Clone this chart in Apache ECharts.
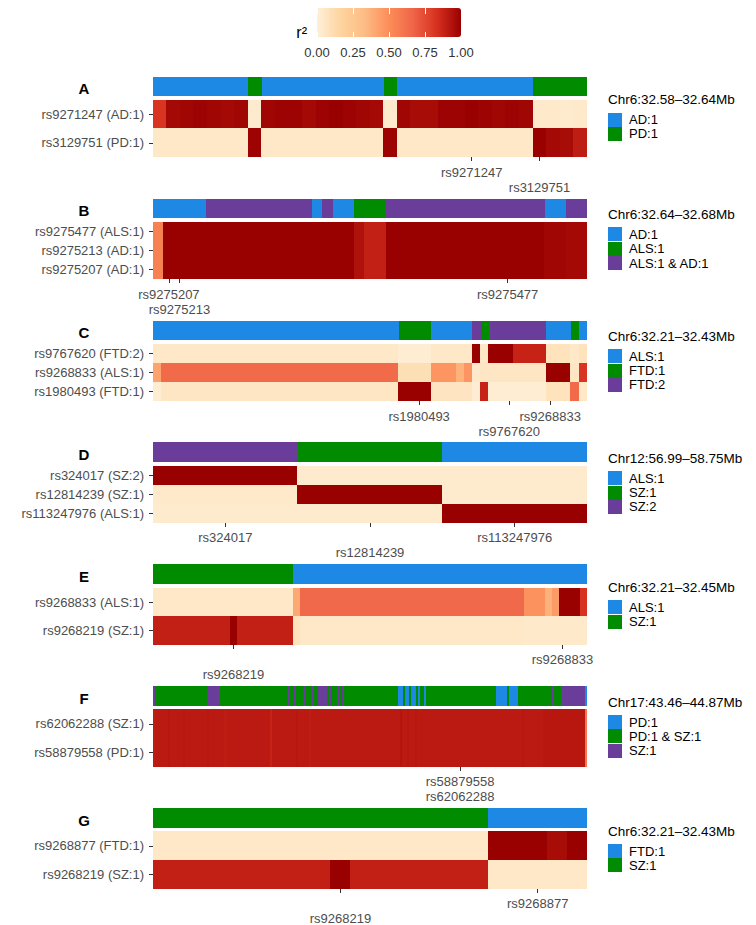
<!DOCTYPE html>
<html><head><meta charset="utf-8">
<script src="https://cdn.jsdelivr.net/npm/echarts@6.0.0/dist/echarts.min.js"></script>
<style>html,body{margin:0;padding:0;background:#fff}#c{width:756px;height:925px}
#c svg path, #c svg rect{shape-rendering:crispEdges}</style>
</head><body><div id="c"></div>
<script>
const FONT = '"Liberation Sans", Arial, Helvetica, sans-serif';
const CAT_COLORS = ['#1E88E5', '#008B00', '#6A3D9A'];
const R2_COLORS = ['#FEF0D9','#FDD49E','#FDBB84','#FC8D59','#EF6548','#D7301F','#990000'];
const CB_TICKS = [0, 0.25, 0.5, 0.75, 1];
const CB_LABELS = ['0.00', '0.25', '0.50', '0.75', '1.00'];

// ---------- Panel A ----------
const A_region = 'Chr6:32.58–32.64Mb';
const A_legend = ['AD:1', 'PD:1'];
const A_cats = '00000001000000000100000000001111';
const A_rows = ['rs9271247 (AD:1)', 'rs3129751 (PD:1)'];
const A_r2_0 = [0.82,0.97,0.98,0.99,0.98,0.97,0.98,0.03,
  0.98,0.99,0.99,0.97,0.99,1.00,0.99,0.98,0.97,0.03,
  0.98,0.96,0.96,0.99,0.99,1.00,0.99,0.98,0.99,0.98,
  0.04,0.04,0.03,0.04];
const A_r2_1 = [0.05,0.05,0.05,0.05,0.05,0.05,0.05,0.99,
  0.05,0.05,0.05,0.05,0.05,0.05,0.05,0.05,0.05,0.99,
  0.05,0.05,0.05,0.05,0.05,0.05,0.05,0.05,0.05,0.05,
  1.00,0.97,0.96,0.90];
const A_tickCols = [23, 28];
const A_tickLabels = ['rs9271247', 'rs3129751'];

// ---------- Panel B ----------
const B_region = 'Chr6:32.64–32.68Mb';
const B_legend = ['AD:1', 'ALS:1', 'ALS:1 & AD:1'];
const B_cats = '00000222222222202001112222222222222220022';
const B_rows = ['rs9275477 (ALS:1)', 'rs9275213 (AD:1)', 'rs9275207 (AD:1)'];
const B_r2_0 = [0.55,1.00,1.00,1.00,1.00,1.00,1.00,1.00,1.00,1.00,
  1.00,1.00,1.00,1.00,1.00,1.00,1.00,1.00,1.00,0.94,
  0.89,0.89,1.00,1.00,1.00,1.00,1.00,1.00,1.00,1.00,
  1.00,1.00,1.00,1.00,1.00,1.00,1.00,0.98,0.98,0.97,
  0.97];
const B_r2_1 = [0.55,1.00,1.00,1.00,1.00,1.00,1.00,1.00,1.00,1.00,
  1.00,1.00,1.00,1.00,1.00,1.00,1.00,1.00,1.00,0.94,
  0.89,0.89,1.00,1.00,1.00,1.00,1.00,1.00,1.00,1.00,
  1.00,1.00,1.00,1.00,1.00,1.00,1.00,0.98,0.98,0.97,
  0.97];
const B_r2_2 = [0.55,1.00,1.00,1.00,1.00,1.00,1.00,1.00,1.00,1.00,
  1.00,1.00,1.00,1.00,1.00,1.00,1.00,1.00,1.00,0.94,
  0.89,0.89,1.00,1.00,1.00,1.00,1.00,1.00,1.00,1.00,
  1.00,1.00,1.00,1.00,1.00,1.00,1.00,0.98,0.98,0.97,
  0.97];
const B_tickCols = [1, 2, 33];
const B_tickLabels = ['rs9275207', 'rs9275213', 'rs9275477'];

// ---------- Panel C ----------
const C_region = 'Chr6:32.21–32.43Mb';
const C_legend = ['ALS:1', 'FTD:1', 'FTD:2'];
const C_cats = '00000000000000000000000000000011110000021222222200010';
const C_rows = ['rs9767620 (FTD:2)', 'rs9268833 (ALS:1)', 'rs1980493 (FTD:1)'];
const C_r2_0 = [0.05,0.05,0.05,0.05,0.05,0.05,0.05,0.05,0.05,0.05,
  0.05,0.05,0.05,0.05,0.05,0.05,0.05,0.05,0.05,0.05,
  0.05,0.05,0.05,0.05,0.05,0.05,0.05,0.05,0.05,0.05,
  0.02,0.02,0.02,0.02,0.05,0.05,0.05,0.05,0.05,1.00,
  0.05,1.00,1.00,1.00,0.88,0.88,0.88,0.88,0.08,0.08,
  0.08,0.05,0.08];
const C_r2_1 = [0.42,0.64,0.64,0.64,0.64,0.64,0.64,0.64,0.64,0.64,
  0.64,0.64,0.64,0.64,0.64,0.64,0.64,0.64,0.64,0.64,
  0.64,0.64,0.64,0.64,0.64,0.64,0.64,0.64,0.64,0.64,
  0.10,0.10,0.10,0.10,0.47,0.47,0.47,0.37,0.47,0.04,
  0.06,0.06,0.06,0.06,0.06,0.06,0.06,0.06,1.00,1.00,
  1.00,0.06,0.82];
const C_r2_2 = [0.02,0.06,0.06,0.06,0.06,0.06,0.06,0.06,0.06,0.06,
  0.06,0.06,0.06,0.06,0.06,0.06,0.06,0.06,0.06,0.06,
  0.06,0.06,0.06,0.06,0.06,0.06,0.06,0.06,0.06,0.06,
  1.00,1.00,1.00,1.00,0.07,0.07,0.07,0.07,0.07,0.02,
  0.88,0.02,0.02,0.02,0.02,0.02,0.02,0.02,0.08,0.08,
  0.08,0.64,0.05];
const C_tickCols = [32, 43, 48];
const C_tickLabels = ['rs1980493', 'rs9767620', 'rs9268833'];

// ---------- Panel D ----------
const D_region = 'Chr12:56.99–58.75Mb';
const D_legend = ['ALS:1', 'SZ:1', 'SZ:2'];
const D_cats = '210';
const D_rows = ['rs324017 (SZ:2)', 'rs12814239 (SZ:1)', 'rs113247976 (ALS:1)'];
const D_r2_0 = [1.00, 0.03, 0.03];
const D_r2_1 = [0.04, 1.00, 0.03];
const D_r2_2 = [0.03, 0.03, 1.00];
const D_tickCols = [0, 1, 2];
const D_tickLabels = ['rs324017', 'rs12814239', 'rs113247976'];

// ---------- Panel E ----------
const E_region = 'Chr6:32.21–32.45Mb';
const E_legend = ['ALS:1', 'SZ:1'];
const E_cats = '11111111111111111111000000000000000000000000000000000000000000';
const E_rows = ['rs9268833 (ALS:1)', 'rs9268219 (SZ:1)'];
const E_r2_0 = [0.05,0.05,0.05,0.05,0.05,0.05,0.05,0.05,0.05,0.05,
  0.05,0.05,0.05,0.05,0.05,0.05,0.05,0.05,0.05,0.05,
  0.40,0.65,0.65,0.65,0.65,0.65,0.65,0.65,0.65,0.65,
  0.65,0.65,0.65,0.65,0.65,0.65,0.65,0.65,0.65,0.65,
  0.65,0.65,0.65,0.65,0.65,0.65,0.65,0.65,0.65,0.65,
  0.65,0.65,0.65,0.48,0.48,0.48,0.37,0.45,1.00,1.00,
  1.00,0.83];
const E_r2_1 = [0.89,0.89,0.89,0.89,0.89,0.89,0.89,0.89,0.89,0.89,
  0.89,1.00,0.89,0.89,0.89,0.89,0.89,0.89,0.89,0.89,
  0.08,0.05,0.05,0.05,0.05,0.05,0.05,0.05,0.05,0.05,
  0.05,0.05,0.05,0.05,0.05,0.05,0.05,0.05,0.05,0.05,
  0.05,0.05,0.05,0.05,0.05,0.05,0.05,0.05,0.05,0.05,
  0.05,0.05,0.05,0.04,0.04,0.04,0.04,0.04,0.04,0.04,
  0.04,0.04];
const E_tickCols = [58, 11];
const E_tickLabels = ['rs9268833', 'rs9268219'];

// ---------- Panel F ----------
const F_region = 'Chr17:43.46–44.87Mb';
const F_legend = ['PD:1', 'PD:1 & SZ:1', 'SZ:1'];
const F_cats = [
  '2111111111111111111111111222222',
  '1111111111', '1111111111', '1111111111', '1',
  '21121112111211', '2222', '1211121211',
  '1111111111', '1111111111', '111', '00100100', '10110111',
  '1111111111', '1111111111', '111111111', '0000010000',
  '1111111111111111', '2', '111', '22222222222', '0'
].join('');
const F_rows = ['rs62062288 (SZ:1)', 'rs58879558 (PD:1)'];
const F_r2_0 = [
  0.90,0.91,0.91,0.91,0.91,0.91,0.91,0.92,0.91,0.91,0.91,0.91,0.91,0.91,0.92,0.91,0.91,0.91,0.91,0.91,
  0.91,0.91,0.91,0.91,0.91,0.92,0.91,0.91,0.91,0.91,0.91,0.91,0.91,0.90,0.91,0.91,0.91,0.91,0.91,0.91,
  0.91,0.91,0.91,0.91,0.91,0.91,0.91,0.91,0.91,0.91,0.91,0.91,0.91,0.91,0.88,0.91,0.91,0.91,0.91,0.91,
  0.91,0.91,0.91,0.91,0.91,0.91,0.92,0.91,0.91,0.91,0.91,0.91,0.90,0.91,0.91,0.91,0.91,0.91,0.91,0.91,
  0.91,0.91,0.91,0.91,0.91,0.91,0.91,0.91,0.91,0.91,0.91,0.91,0.91,0.91,0.91,0.91,0.91,0.91,0.91,0.91,
  0.91,0.91,0.91,0.91,0.91,0.91,0.91,0.91,0.91,0.91,0.91,0.91,0.91,0.91,0.93,0.91,0.91,0.92,0.91,0.91,
  0.91,0.92,0.91,0.91,0.91,0.91,0.91,0.91,0.91,0.91,0.91,0.91,0.91,0.91,0.91,0.91,0.91,0.91,0.91,0.91,
  0.91,0.91,0.91,0.91,0.91,0.91,0.91,0.91,0.91,0.91,0.91,0.91,0.91,0.91,0.91,0.91,0.91,0.91,0.91,0.91,
  0.91,0.91,0.91,0.91,0.91,0.91,0.91,0.91,0.91,0.91,0.92,0.91,0.91,0.91,0.91,0.91,0.91,0.91,0.91,0.91,
  0.92,0.92,0.92,0.92,0.92,0.92,0.92,0.92,0.92,0.92,0.92,0.92,0.92,0.92,0.92,0.92,0.92,0.92,0.92,0.60];
const F_r2_1 = [
  0.90,0.91,0.91,0.91,0.91,0.91,0.91,0.92,0.91,0.91,0.91,0.91,0.91,0.91,0.92,0.91,0.91,0.91,0.91,0.91,
  0.91,0.91,0.91,0.91,0.91,0.92,0.91,0.91,0.91,0.91,0.91,0.91,0.91,0.90,0.91,0.91,0.91,0.91,0.91,0.91,
  0.91,0.91,0.91,0.91,0.91,0.91,0.91,0.91,0.91,0.91,0.91,0.91,0.91,0.91,0.88,0.91,0.91,0.91,0.91,0.91,
  0.91,0.91,0.91,0.91,0.91,0.91,0.92,0.91,0.91,0.91,0.91,0.91,0.90,0.91,0.91,0.91,0.91,0.91,0.91,0.91,
  0.91,0.91,0.91,0.91,0.91,0.91,0.91,0.91,0.91,0.91,0.91,0.91,0.91,0.91,0.91,0.91,0.91,0.91,0.91,0.91,
  0.91,0.91,0.91,0.91,0.91,0.91,0.91,0.91,0.91,0.91,0.91,0.91,0.91,0.91,0.93,0.91,0.91,0.92,0.91,0.91,
  0.91,0.92,0.91,0.91,0.91,0.91,0.91,0.91,0.91,0.91,0.91,0.91,0.91,0.91,0.91,0.91,0.91,0.91,0.91,0.91,
  0.91,0.91,0.91,0.91,0.91,0.91,0.91,0.91,0.91,0.91,0.91,0.91,0.91,0.91,0.91,0.91,0.91,0.91,0.91,0.91,
  0.91,0.91,0.91,0.91,0.91,0.91,0.91,0.91,0.91,0.91,0.92,0.91,0.91,0.91,0.91,0.91,0.91,0.91,0.91,0.91,
  0.92,0.92,0.92,0.92,0.92,0.92,0.92,0.92,0.92,0.92,0.92,0.92,0.92,0.92,0.92,0.92,0.92,0.92,0.92,0.60];
const F_tickCols = [141, 141];
const F_tickLabels = ['rs58879558', 'rs62062288'];

// ---------- Panel G ----------
const G_region = 'Chr6:32.21–32.43Mb';
const G_legend = ['FTD:1', 'SZ:1'];
const G_cats = '1111111111111111100000';
const G_rows = ['rs9268877 (FTD:1)', 'rs9268219 (SZ:1)'];
const G_r2_0 = [0.05,0.05,0.05,0.05,0.05,0.05,0.05,0.05,0.05,0.05,0.05,
  0.05,0.05,0.05,0.05,0.05,0.05,1.00,1.00,1.00,0.96,1.00];
const G_r2_1 = [0.89,0.89,0.89,0.89,0.89,0.89,0.89,0.89,0.89,1.00,0.89,
  0.89,0.89,0.89,0.89,0.89,0.89,0.05,0.05,0.05,0.05,0.05];
const G_tickCols = [19, 9];
const G_tickLabels = ['rs9268877', 'rs9268219'];

const PANELS = [
  {id:'A', region:A_region, legend:A_legend, cats:A_cats, rows:A_rows, r2:[A_r2_0, A_r2_1], tickCols:A_tickCols, tickLabels:A_tickLabels},
  {id:'B', region:B_region, legend:B_legend, cats:B_cats, rows:B_rows, r2:[B_r2_0, B_r2_1, B_r2_2], tickCols:B_tickCols, tickLabels:B_tickLabels},
  {id:'C', region:C_region, legend:C_legend, cats:C_cats, rows:C_rows, r2:[C_r2_0, C_r2_1, C_r2_2], tickCols:C_tickCols, tickLabels:C_tickLabels},
  {id:'D', region:D_region, legend:D_legend, cats:D_cats, rows:D_rows, r2:[D_r2_0, D_r2_1, D_r2_2], tickCols:D_tickCols, tickLabels:D_tickLabels},
  {id:'E', region:E_region, legend:E_legend, cats:E_cats, rows:E_rows, r2:[E_r2_0, E_r2_1], tickCols:E_tickCols, tickLabels:E_tickLabels},
  {id:'F', region:F_region, legend:F_legend, cats:F_cats, rows:F_rows, r2:[F_r2_0, F_r2_1], tickCols:F_tickCols, tickLabels:F_tickLabels},
  {id:'G', region:G_region, legend:G_legend, cats:G_cats, rows:G_rows, r2:[G_r2_0, G_r2_1], tickCols:G_tickCols, tickLabels:G_tickLabels}
];

// ---------- layout ----------
const LEFT = 153, WIDTH = 434, TOP0 = 76.7, STEP = 121.9;
const STRIP_H = 19.5, HEAT_OFF = 23.5, HEAT_H = 57;
const KEY = 14, KEY_GAP = 0.3;
const AXIS_TEXT = {color:'#4d4d4d', fontSize:13, fontFamily:FONT};

const option = {
  animation:false, backgroundColor:'#ffffff',
  grid:[], xAxis:[], yAxis:[], series:[], legend:[], graphic:[]
};
const heatIdx = [];

PANELS.forEach((p, i) => {
  const T = TOP0 + i * STEP;
  const n = p.cats.length;
  const cols = Array.from({length:n}, (_, k) => String(k));
  const g = option.grid.length;
  option.grid.push({left:LEFT, width:WIDTH, top:T, height:STRIP_H, outerBoundsMode:'none'});
  option.grid.push({left:LEFT, width:WIDTH, top:T + HEAT_OFF, height:HEAT_H, outerBoundsMode:'none'});

  const map = {};
  p.tickCols.forEach((c, j) => { (map[c] = map[c] || ['', ''])[j % 2] = p.tickLabels[j]; });

  const xs = option.xAxis.length;
  option.xAxis.push({gridIndex:g, type:'category', data:cols, show:false});
  option.xAxis.push({gridIndex:g + 1, type:'category', data:cols, position:'bottom',
    axisLine:{show:false}, splitLine:{show:false},
    axisTick:{show:true, alignWithLabel:true, length:4, interval:(idx) => !!map[idx],
      lineStyle:{color:'#333333', width:1.1}},
    axisLabel:Object.assign({show:true, margin:8.5, hideOverlap:false,
      interval:(idx) => !!(map[idx] && map[idx][0]),
      formatter:(v) => (map[+v] ? map[+v][0] : '')}, AXIS_TEXT)});
  option.xAxis.push({gridIndex:g + 1, type:'category', data:cols, position:'bottom', min:0, max:n - 1,
    axisLine:{show:false}, splitLine:{show:false}, axisTick:{show:false},
    axisLabel:Object.assign({show:true, margin:23.5, hideOverlap:false,
      interval:(idx) => !!(map[idx] && map[idx][1]),
      formatter:(v) => (map[+v] ? map[+v][1] : '')}, AXIS_TEXT)});

  const ys = option.yAxis.length;
  option.yAxis.push({gridIndex:g, type:'value', min:0, max:1, show:false});
  option.yAxis.push({gridIndex:g + 1, type:'category', data:p.rows, inverse:true,
    axisLine:{show:false}, splitLine:{show:false},
    axisTick:{show:true, alignWithLabel:true, length:4, lineStyle:{color:'#333333', width:1.1}},
    axisLabel:Object.assign({margin:9}, AXIS_TEXT)});

  // category strip: one bar series per legend category
  p.legend.forEach((name, k) => {
    option.series.push({
      name:p.id + '|' + name, type:'bar', xAxisIndex:xs, yAxisIndex:ys, silent:true,
      barWidth:'100%', barGap:'-100%',
      itemStyle:{color:CAT_COLORS[k], borderWidth:0},
      data:p.cats.split('').map(ch => (+ch === k ? 1 : '-'))
    });
  });

  // r2 heatmap
  const data = [];
  p.r2.forEach((row, r) => row.forEach((v, c) => data.push([c, r, v])));
  heatIdx.push(option.series.length);
  option.series.push({type:'heatmap', xAxisIndex:xs + 1, yAxisIndex:ys + 1, data:data, silent:true,
    itemStyle:{borderWidth:0}});

  // legend
  const center = T + (HEAT_OFF + HEAT_H) / 2;
  const legTop = center + 10 - p.legend.length * (KEY + KEY_GAP) / 2;
  option.legend.push({orient:'vertical', left:608, top:legTop, padding:0,
    itemWidth:KEY, itemHeight:KEY, itemGap:KEY_GAP, icon:'rect', selectedMode:false,
    data:p.legend.map(l => p.id + '|' + l),
    formatter:(nm) => nm.slice(nm.indexOf('|') + 1),
    textStyle:{fontSize:13, color:'#000', fontFamily:FONT, padding:[0, 0, 0, 2]}});
  option.graphic.push({type:'text', x:608, y:legTop - 13, silent:true,
    style:{text:p.region, fontSize:13.5, fontFamily:FONT, fill:'#000', align:'left', verticalAlign:'middle'}});
  option.graphic.push({type:'text', x:84, y:T + 12, silent:true,
    style:{text:p.id, fontSize:15, fontWeight:'bold', fontFamily:FONT, fill:'#000', align:'center', verticalAlign:'middle'}});
});

// ---------- colour bar ----------
const CB = {left:317, top:8, width:144, height:29};
const cg = option.grid.length;
option.grid.push({left:CB.left, top:CB.top, width:CB.width, height:CB.height, outerBoundsMode:'none'});
const cbx = option.xAxis.length;
const cbTick = {show:true, inside:true, length:5.5, lineStyle:{color:'#ffffff', width:1}};
option.xAxis.push({gridIndex:cg, type:'value', min:0, max:1, interval:0.25, position:'bottom', z:10,
  axisLine:{show:false}, splitLine:{show:false}, axisTick:cbTick,
  axisLabel:{margin:9, color:'#333333', fontSize:13, fontFamily:FONT,
    formatter:(v) => { const j = CB_TICKS.indexOf(v); return j >= 0 ? CB_LABELS[j] : ''; }}});
option.xAxis.push({gridIndex:cg, type:'value', min:0, max:1, interval:0.25, position:'top', z:10,
  axisLine:{show:false}, splitLine:{show:false}, axisTick:cbTick, axisLabel:{show:false}});
const cby = option.yAxis.length;
option.yAxis.push({gridIndex:cg, type:'value', min:0, max:1, show:false});
option.series.push({type:'line', xAxisIndex:cbx, yAxisIndex:cby, data:[], silent:true});

option.visualMap = {type:'continuous', min:0, max:1, dimension:2, seriesIndex:heatIdx,
  inRange:{color:R2_COLORS}, orient:'horizontal', left:CB.left, top:CB.top,
  itemWidth:CB.height, itemHeight:CB.width, calculable:false, hoverLink:false,
  padding:0, z:2, textStyle:{fontSize:0}};
option.graphic.push({type:'text', x:307, y:32, silent:true,
  style:{text:'r²', fontSize:16, fontFamily:FONT, fill:'#000', align:'right', verticalAlign:'middle'}});

const chart = echarts.init(document.getElementById('c'), null, {renderer:'svg', width:756, height:925});
chart.setOption(option);
</script>
</body></html>
